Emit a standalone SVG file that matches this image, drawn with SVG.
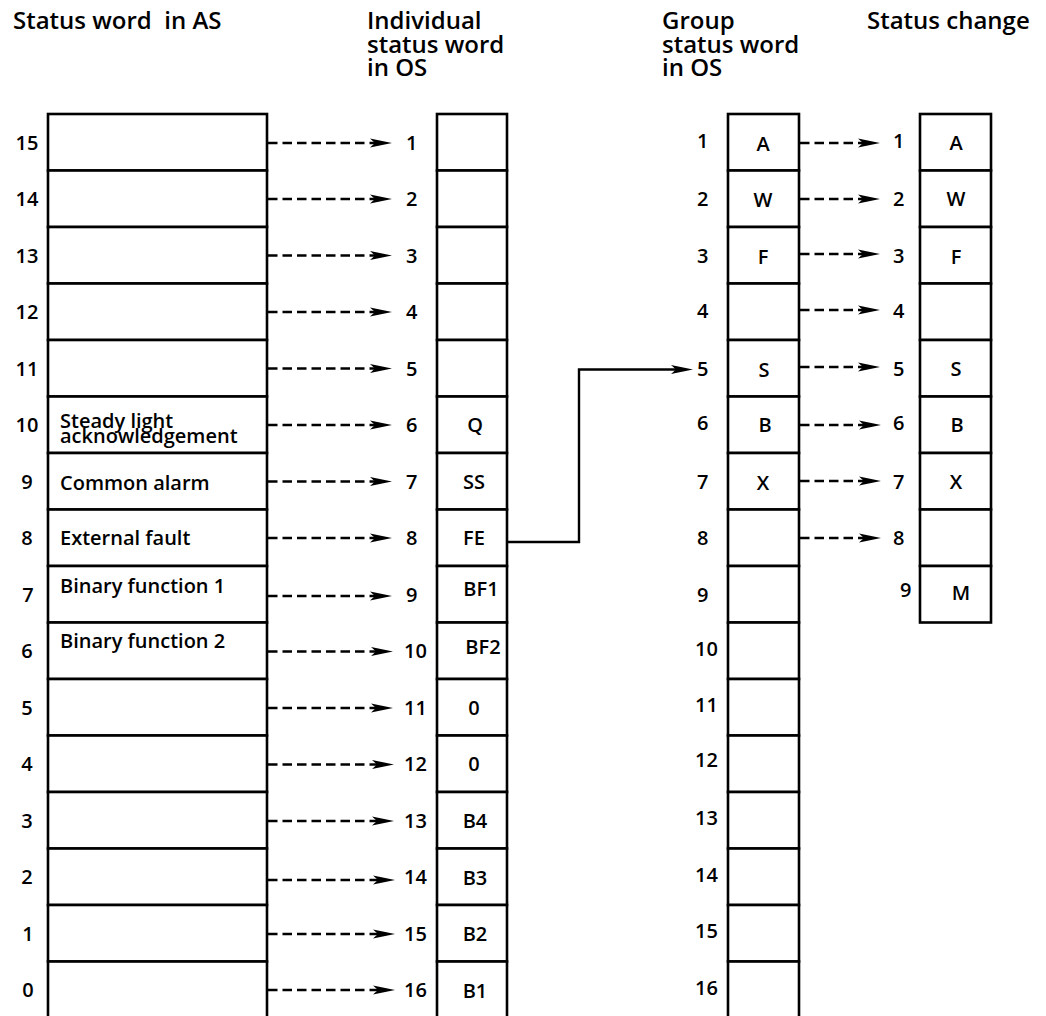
<svg xmlns="http://www.w3.org/2000/svg" width="1046" height="1016" viewBox="0 0 1046 1016">
<style>
text{font-family:"Open Sans","Liberation Sans",sans-serif;font-weight:600;fill:#000}
.h{font-size:24px}
.n{font-size:20px}
.c{font-size:20px;text-anchor:middle}
.lab{font-size:20px}
.cell{fill:#fff;stroke:#000;stroke-width:2.6}
.dash{fill:none;stroke:#000;stroke-width:2.4;stroke-dasharray:9.5 5;marker-end:url(#ah)}
.solid{fill:none;stroke:#000;stroke-width:2.4;marker-end:url(#ah)}
</style>
<defs>
<marker id="ah" markerUnits="userSpaceOnUse" markerWidth="24" markerHeight="10" refX="12" refY="4.5" orient="auto" overflow="visible">
<path d="M0,0 L22,4.5 L0,9 L5,4.5 Z" fill="#000"/>
</marker>
</defs>
<rect width="1046" height="1016" fill="#fff"/>

<g id="headers">
<text class="h" x="13" y="29" xml:space="preserve">Status word  in AS</text>
<text class="h" x="367" y="29">Individual</text>
<text class="h" x="367" y="52.5">status word</text>
<text class="h" x="367" y="76">in OS</text>
<text class="h" x="662" y="29">Group</text>
<text class="h" x="662" y="52.5">status word</text>
<text class="h" x="662" y="76">in OS</text>
<text class="h" x="867" y="29">Status change</text>
</g>

<g id="as-word">
<rect class="cell" x="48" y="114" width="219" height="56.5"/>
<rect class="cell" x="48" y="170.5" width="219" height="56.5"/>
<rect class="cell" x="48" y="227" width="219" height="56.5"/>
<rect class="cell" x="48" y="283.5" width="219" height="56.5"/>
<rect class="cell" x="48" y="340" width="219" height="56.5"/>
<rect class="cell" x="48" y="396.5" width="219" height="56.5"/>
<rect class="cell" x="48" y="453" width="219" height="56.5"/>
<rect class="cell" x="48" y="509.5" width="219" height="56.5"/>
<rect class="cell" x="48" y="566" width="219" height="56.5"/>
<rect class="cell" x="48" y="622.5" width="219" height="56.5"/>
<rect class="cell" x="48" y="679" width="219" height="56.5"/>
<rect class="cell" x="48" y="735.5" width="219" height="56.5"/>
<rect class="cell" x="48" y="792" width="219" height="56.5"/>
<rect class="cell" x="48" y="848.5" width="219" height="56.5"/>
<rect class="cell" x="48" y="905" width="219" height="56.5"/>
<rect class="cell" x="48" y="961.5" width="219" height="60"/>
<text class="lab" x="60" y="428">Steady light</text>
<text class="lab" x="60" y="442.5">acknowledgement</text>
<text class="lab" x="60" y="490">Common alarm</text>
<text class="lab" x="60" y="545">External fault</text>
<text class="lab" x="60" y="593">Binary function 1</text>
<text class="lab" x="60" y="648">Binary function 2</text>
<text class="c" x="27" y="149.5">15</text>
<text class="c" x="27" y="206">14</text>
<text class="c" x="27" y="262.5">13</text>
<text class="c" x="27" y="319">12</text>
<text class="c" x="27" y="375.5">11</text>
<text class="c" x="27" y="432">10</text>
<text class="c" x="27" y="488.5">9</text>
<text class="c" x="27" y="545">8</text>
<text class="c" x="28" y="602">7</text>
<text class="c" x="27" y="658">6</text>
<text class="c" x="27" y="714.5">5</text>
<text class="c" x="27" y="771">4</text>
<text class="c" x="27" y="827.5">3</text>
<text class="c" x="27" y="884">2</text>
<text class="c" x="28" y="940.5">1</text>
<text class="c" x="28" y="997">0</text>
</g>

<g id="individual-word">
<rect class="cell" x="437" y="114" width="70" height="56.5"/>
<rect class="cell" x="437" y="170.5" width="70" height="56.5"/>
<rect class="cell" x="437" y="227" width="70" height="56.5"/>
<rect class="cell" x="437" y="283.5" width="70" height="56.5"/>
<rect class="cell" x="437" y="340" width="70" height="56.5"/>
<rect class="cell" x="437" y="396.5" width="70" height="56.5"/>
<rect class="cell" x="437" y="453" width="70" height="56.5"/>
<rect class="cell" x="437" y="509.5" width="70" height="56.5"/>
<rect class="cell" x="437" y="566" width="70" height="56.5"/>
<rect class="cell" x="437" y="622.5" width="70" height="56.5"/>
<rect class="cell" x="437" y="679" width="70" height="56.5"/>
<rect class="cell" x="437" y="735.5" width="70" height="56.5"/>
<rect class="cell" x="437" y="792" width="70" height="56.5"/>
<rect class="cell" x="437" y="848.5" width="70" height="56.5"/>
<rect class="cell" x="437" y="905" width="70" height="56.5"/>
<rect class="cell" x="437" y="961.5" width="70" height="60"/>
<g class="n">
<text x="406" y="149.5">1</text>
<text x="406" y="206">2</text>
<text x="406" y="262.5">3</text>
<text x="406" y="319">4</text>
<text x="406" y="375.5">5</text>
<text x="406" y="432">6</text>
<text x="406" y="488.5">7</text>
<text x="406" y="545">8</text>
<text x="406" y="601.5">9</text>
<text x="404" y="658">10</text>
<text x="404" y="714.5">11</text>
<text x="404" y="771">12</text>
<text x="404" y="827.5">13</text>
<text x="404" y="884">14</text>
<text x="404" y="940.5">15</text>
<text x="404" y="997">16</text>
</g>
<text class="c" x="475" y="432">Q</text>
<text class="c" x="474" y="489">SS</text>
<text class="c" x="474" y="545">FE</text>
<text class="c" x="481" y="596">BF1</text>
<text class="c" x="483" y="654">BF2</text>
<text class="c" x="474" y="715">0</text>
<text class="c" x="474" y="771">0</text>
<text class="c" x="475" y="828">B4</text>
<text class="c" x="475" y="885">B3</text>
<text class="c" x="475" y="941">B2</text>
<text class="c" x="475" y="998">B1</text>
</g>

<g id="group-word">
<rect class="cell" x="728" y="114" width="71" height="56.5"/>
<rect class="cell" x="728" y="170.5" width="71" height="56.5"/>
<rect class="cell" x="728" y="227" width="71" height="56.5"/>
<rect class="cell" x="728" y="283.5" width="71" height="56.5"/>
<rect class="cell" x="728" y="340" width="71" height="56.5"/>
<rect class="cell" x="728" y="396.5" width="71" height="56.5"/>
<rect class="cell" x="728" y="453" width="71" height="56.5"/>
<rect class="cell" x="728" y="509.5" width="71" height="56.5"/>
<rect class="cell" x="728" y="566" width="71" height="56.5"/>
<rect class="cell" x="728" y="622.5" width="71" height="56.5"/>
<rect class="cell" x="728" y="679" width="71" height="56.5"/>
<rect class="cell" x="728" y="735.5" width="71" height="56.5"/>
<rect class="cell" x="728" y="792" width="71" height="56.5"/>
<rect class="cell" x="728" y="848.5" width="71" height="56.5"/>
<rect class="cell" x="728" y="905" width="71" height="56.5"/>
<rect class="cell" x="728" y="961.5" width="71" height="60"/>
<g class="n">
<text x="697" y="147.5">1</text>
<text x="697" y="206">2</text>
<text x="697" y="262.5">3</text>
<text x="697" y="318">4</text>
<text x="697" y="375.5">5</text>
<text x="697" y="430">6</text>
<text x="697" y="488.5">7</text>
<text x="697" y="545">8</text>
<text x="697" y="601.5">9</text>
<text x="695" y="656">10</text>
<text x="695" y="712">11</text>
<text x="695" y="767">12</text>
<text x="695" y="825">13</text>
<text x="695" y="882">14</text>
<text x="695" y="938">15</text>
<text x="695" y="995">16</text>
</g>
<text class="c" x="763" y="151">A</text>
<text class="c" x="763" y="207">W</text>
<text class="c" x="763" y="264">F</text>
<text class="c" x="764" y="377">S</text>
<text class="c" x="765" y="432">B</text>
<text class="c" x="763" y="490">X</text>
</g>

<g id="status-change">
<rect class="cell" x="920" y="114" width="71" height="56.5"/>
<rect class="cell" x="920" y="170.5" width="71" height="56.5"/>
<rect class="cell" x="920" y="227" width="71" height="56.5"/>
<rect class="cell" x="920" y="283.5" width="71" height="56.5"/>
<rect class="cell" x="920" y="340" width="71" height="56.5"/>
<rect class="cell" x="920" y="396.5" width="71" height="56.5"/>
<rect class="cell" x="920" y="453" width="71" height="56.5"/>
<rect class="cell" x="920" y="509.5" width="71" height="56.5"/>
<rect class="cell" x="920" y="566" width="71" height="56.5"/>
<g class="n">
<text x="893" y="147.5">1</text>
<text x="893" y="206">2</text>
<text x="893" y="262.5">3</text>
<text x="893" y="318">4</text>
<text x="893" y="375.5">5</text>
<text x="893" y="430">6</text>
<text x="893" y="488.5">7</text>
<text x="893" y="545">8</text>
<text x="900" y="597">9</text>
</g>
<text class="c" x="956" y="150">A</text>
<text class="c" x="956" y="206">W</text>
<text class="c" x="956" y="264">F</text>
<text class="c" x="956" y="376">S</text>
<text class="c" x="957" y="432">B</text>
<text class="c" x="956" y="489">X</text>
<text class="c" x="961" y="600">M</text>
</g>

<g id="connectors">
<line class="dash" x1="268" y1="143" x2="382" y2="143"/>
<line class="dash" x1="268" y1="199" x2="382" y2="199"/>
<line class="dash" x1="268" y1="255.5" x2="382" y2="255.5"/>
<line class="dash" x1="268" y1="312" x2="382" y2="312"/>
<line class="dash" x1="268" y1="368.5" x2="382" y2="368.5"/>
<line class="dash" x1="268" y1="425" x2="382" y2="425"/>
<line class="dash" x1="268" y1="481.5" x2="382" y2="481.5"/>
<line class="dash" x1="268" y1="538" x2="382" y2="538"/>
<line class="dash" x1="268" y1="596" x2="382" y2="596"/>
<line class="dash" x1="268" y1="651.5" x2="383" y2="651.5"/>
<line class="dash" x1="268" y1="708" x2="383" y2="708"/>
<line class="dash" x1="268" y1="764.5" x2="384" y2="764.5"/>
<line class="dash" x1="268" y1="821" x2="384" y2="821"/>
<line class="dash" x1="268" y1="880" x2="385" y2="880"/>
<line class="dash" x1="268" y1="934" x2="385" y2="934"/>
<line class="dash" x1="268" y1="990" x2="385" y2="990"/>
<line class="dash" x1="800" y1="143" x2="870" y2="143"/>
<line class="dash" x1="800" y1="199" x2="870" y2="199"/>
<line class="dash" x1="800" y1="254" x2="870" y2="254"/>
<line class="dash" x1="800" y1="310" x2="870" y2="310"/>
<line class="dash" x1="800" y1="367" x2="870" y2="367"/>
<line class="dash" x1="800" y1="425" x2="871" y2="425"/>
<line class="dash" x1="800" y1="481" x2="871" y2="481"/>
<line class="dash" x1="800" y1="538" x2="871" y2="538"/>
<polyline class="solid" points="507,542 579,542 579,369.5 683,369.5"/>
</g>
</svg>
